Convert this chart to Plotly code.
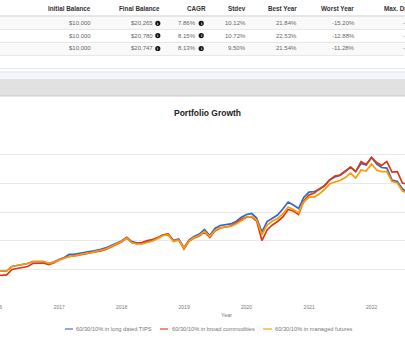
import pandas as pd
import plotly.graph_objects as go

# ---- data -----------------------------------------------------------------
months = pd.date_range("2015-11-30", "2022-07-31", freq="ME")

tips = [
    12500, 12410,
    12410, 12410, 12800, 12890, 12930, 13060, 13230, 13240, 13220, 13060, 13190, 13410,
    13580, 13840, 13850, 13940, 14010, 14050, 14180, 14270, 14400, 14610, 14830, 15000,
    15320, 14960, 14830, 14800, 14910, 15040, 15260, 15520, 15560, 15040, 15170, 14440,
    15090, 15390, 15600, 15990, 15470, 16080, 16340, 16420, 16470, 16680, 17030, 17280,
    17370, 16980, 15780, 16680, 16980, 17240, 17760, 18360, 18100, 17800, 18750, 19220,
    19270, 19440, 19780, 20260, 20520, 20650, 20990, 21380, 20990, 21680, 21550, 22200,
    21640, 21340, 21290, 20260, 20130, 19480, 19220,
]
commodities = [
    12240, 12070,
    12030, 12070, 12540, 12630, 12670, 12800, 13060, 13100, 13100, 12970, 13100, 13360,
    13530, 13660, 13710, 13790, 13880, 13920, 14050, 14140, 14270, 14480, 14700, 14910,
    15260, 14870, 14780, 14870, 15040, 15130, 15300, 15520, 15600, 15000, 15090, 14310,
    15000, 15260, 15430, 15780, 15300, 15860, 16120, 16210, 16290, 16550, 16850, 17070,
    17070, 16720, 15040, 15950, 16380, 16680, 17070, 17720, 17590, 17280, 18450, 18970,
    19140, 19480, 19740, 20260, 20600, 20690, 21030, 21380, 20990, 21850, 21590, 22200,
    21770, 21510, 21850, 20950, 20990, 20000, 19910,
]
futures = [
    12590, 12410,
    12410, 12410, 12800, 12890, 12930, 13060, 13230, 13230, 13230, 13060, 13150, 13360,
    13530, 13660, 13710, 13840, 13920, 13970, 14090, 14180, 14310, 14530, 14740, 14960,
    15260, 14870, 14740, 14740, 14870, 15000, 15220, 15470, 15520, 14960, 15090, 14400,
    15000, 15300, 15470, 15820, 15390, 15910, 16160, 16210, 16250, 16470, 16770, 17030,
    17110, 16810, 15560, 16380, 16720, 16940, 17330, 17930, 17720, 17410, 18360, 18790,
    18790, 19050, 19440, 19910, 20090, 20220, 20470, 20860, 20430, 21120, 21030, 21640,
    21120, 20990, 20990, 20130, 20000, 19310, 19140,
]

series_names = [
    "60/30/10% in long dated TIPS",
    "60/30/10% in broad commodities",
    "60/30/10% in managed futures",
]
series_colors = ["#3366cc", "#dc3912", "#ff9900"]

year_ticks = [2016, 2017, 2018, 2019, 2020, 2021, 2022]

table_header = ["Initial Balance", "Final Balance", "CAGR", "Stdev",
                "Best Year", "Worst Year", "Max. Drawdown"]
initial_balance = ["$10,000", "$10,000", "$10,000"]
final_balance = ["$20,265", "$20,780", "$20,747"]
cagr = ["7.86%", "8.15%", "8.13%"]
stdev = ["10.12%", "10.72%", "9.50%"]
best_year = ["21.84%", "22.53%", "21.54%"]
worst_year = ["-15.20%", "-12.88%", "-11.28%"]
max_drawdown = ["-17.55%", "-18.02%", "-16.31%"]

# ---- page geometry ---------------------------------------------------------
W, H = 405, 338
PLOT_TOP, PLOT_BOT = 125, 299
FONT = "Liberation Sans, Arial, sans-serif"
X_RANGE = ["2016-01-21", "2022-07-15"]


def fx(x):
    return x / W


def fy(y):
    return (PLOT_BOT - y) / (PLOT_BOT - PLOT_TOP)


def date_frac(d):
    """Position of a date along the x axis as a fraction of the plot width."""
    t0, t1 = pd.Timestamp(X_RANGE[0]), pd.Timestamp(X_RANGE[1])
    return (pd.Timestamp(d) - t0) / (t1 - t0)


fig = go.Figure()
for vals, name, color in zip([tips, commodities, futures], series_names, series_colors):
    fig.add_trace(go.Scatter(x=months, y=vals, mode="lines", name=name,
                             line=dict(color=color, width=1.7), showlegend=False))

shapes = []
annotations = []


def hline(y, color, width=1):
    shapes.append(dict(type="line", xref="paper", yref="paper",
                       x0=0, x1=1, y0=fy(y), y1=fy(y),
                       line=dict(color=color, width=width)))


def band(y0, y1, color):
    shapes.append(dict(type="rect", xref="paper", yref="paper",
                       x0=0, x1=1, y0=fy(y1), y1=fy(y0),
                       fillcolor=color, line=dict(width=0), layer="below"))


def text(x, y, s, size=6, color="#666", anchor="right", bold=False):
    annotations.append(dict(
        x=fx(x), y=fy(y), xref="paper", yref="paper", text=f"<b>{s}</b>" if bold else s,
        showarrow=False, xanchor=anchor, yanchor="middle", borderpad=0,
        font=dict(family=FONT, size=size, color=color)))


# ---- results table ---------------------------------------------------------
row_y = [23.3, 35.6, 48.5]
for i, y in enumerate(row_y):
    if i != 1:
        band(y - 7, y + 6.5, "#f9f9f9")
hline(16, "#cfcfcf", 1.2)
for y in (29.5, 42.5, 55.5, 68.5):
    hline(y, "#e8e8e8")
band(72, 79, "#f4f5fa")
hline(72, "#e2e3ea")
band(79, 96, "#e1e1e1")
hline(96, "#c9c9c9", 1.2)

header_x = [92, 161, 207, 247, 298, 355, 383]
for i, h in enumerate(table_header):
    text(header_x[i], 8.5, h, size=6.3, color="#333", bold=True,
         anchor="left" if i == 6 else "right")

columns = [(initial_balance, 92), (final_balance, 154), (cagr, 197),
           (stdev, 247), (best_year, 298), (worst_year, 356)]
for vals, xr in columns:
    for v, y in zip(vals, row_y):
        text(xr, y, v)
for v, y in zip(max_drawdown, row_y):
    text(401.5, y, v, anchor="left")

# info badges next to final balance and CAGR
for cx in (157.8, 201.2):
    for y in row_y:
        r = 2.6
        shapes.append(dict(type="circle", xref="paper", yref="paper",
                           x0=fx(cx - r), x1=fx(cx + r), y0=fy(y + r), y1=fy(y - r),
                           fillcolor="#111", line=dict(width=0)))
        text(cx, y, "i", size=4, color="#fff", anchor="center", bold=True)

# ---- chart title, axis title, legend ----------------------------------------
text(207.5, 113, "Portfolio Growth", size=8.5, color="#222", anchor="center", bold=True)
text(227, 314.5, "Year", size=5.5, color="#777", anchor="center")

# year label whose tick sits just left of the visible window (partly shown)
for yr in year_ticks:
    frac = date_frac(f"{yr}-01-01")
    if frac < 0:
        annotations.append(dict(
            x=frac, y=fy(307), xref="paper", yref="paper", text=str(yr),
            showarrow=False, xanchor="center", yanchor="middle", borderpad=0,
            font=dict(family=FONT, size=5, color="#777")))

legend_items = [(65, 73, 75), (160, 168, 171), (263, 272, 274)]
for (l0, l1, tx), name, color in zip(legend_items, series_names, series_colors):
    shapes.append(dict(type="line", xref="paper", yref="paper",
                       x0=fx(l0), x1=fx(l1), y0=fy(329), y1=fy(329),
                       line=dict(color=color, width=2), opacity=0.55))
    text(tx, 329, name, size=5.7, color="#777", anchor="left")

fig.update_layout(
    width=W, height=H,
    margin=dict(l=0, r=0, t=PLOT_TOP, b=H - PLOT_BOT, pad=0),
    paper_bgcolor="white", plot_bgcolor="white",
    shapes=shapes, annotations=annotations,
    xaxis=dict(
        type="date", range=X_RANGE,
        tickvals=[f"{y}-01-01" for y in year_ticks],
        ticktext=[str(y) for y in year_ticks],
        showgrid=False, zeroline=False, showline=False, ticks="",
        ticklabelstandoff=4,
        tickfont=dict(family=FONT, size=5, color="#777"),
    ),
    yaxis=dict(
        range=[9995, 25005], tick0=10000, dtick=2500,
        showticklabels=False, gridcolor="#e9e9e9", gridwidth=1,
        zeroline=False, showline=False, ticks="",
    ),
)

fig.write_html("out.html")
